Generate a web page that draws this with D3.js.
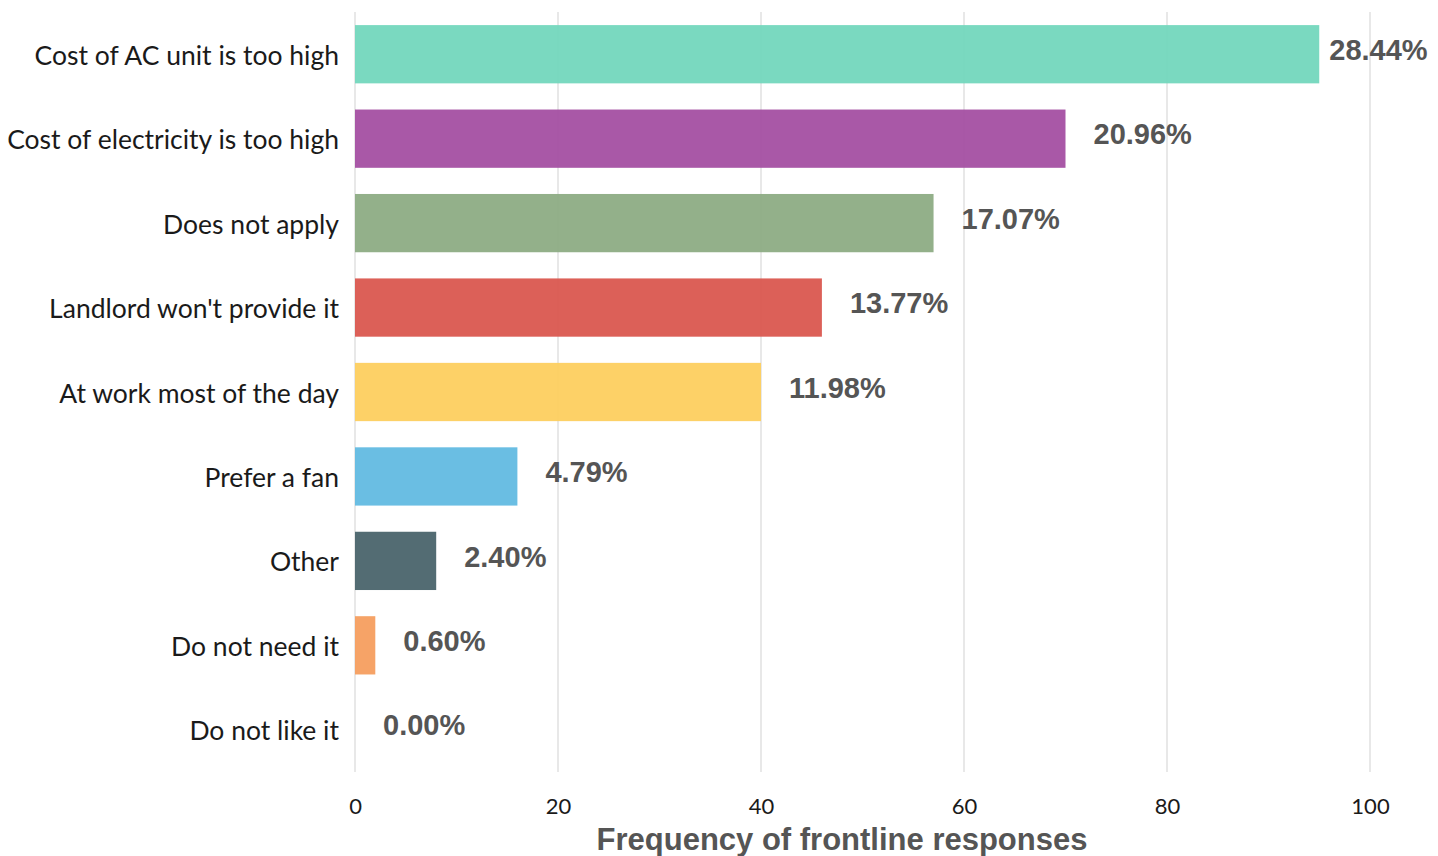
<!DOCTYPE html>
<html><head><meta charset="utf-8">
<script src="https://cdn.jsdelivr.net/npm/d3@7"></script>
<style>body{margin:0;background:#fff;} svg{display:block;}</style>
</head><body>
<svg id="chart" width="1438" height="856"></svg>
<script>
const categories = ["Cost of AC unit is too high","Cost of electricity is too high","Does not apply","Landlord won't provide it","At work most of the day","Prefer a fan","Other","Do not need it","Do not like it"];
const counts = [95,70,57,46,40,16,8,2,0];
const percentLabels = ["28.44%","20.96%","17.07%","13.77%","11.98%","4.79%","2.40%","0.60%","0.00%"];
const colors = ["#6fd6bb","#a24a9f","#8aa980","#d9534a","#fdcd5a","#5db9e1","#445f67","#f59b5a","#cccccc"];
const xTicks = [0,20,40,60,80,100];
const xTitle = "Frequency of frontline responses";

const svg = d3.select("#chart");
const pLeft = 355, pRight = 1370, pTop = 12, pBottom = 772;
const x = d3.scaleLinear().domain([0,100]).range([pLeft,pRight]);
const y = d3.scaleBand().domain(categories).range([pTop,pBottom]).paddingInner(0.31).paddingOuter(0.155);

// gridlines
svg.append("g").selectAll("line").data(xTicks).join("line")
  .attr("x1",d=>x(d)).attr("x2",d=>x(d)).attr("y1",pTop).attr("y2",pBottom)
  .attr("stroke","#d9d9d9").attr("stroke-width",1.2);

// bars
svg.append("g").selectAll("rect").data(categories).join("rect")
  .attr("x",x(0)).attr("y",d=>y(d))
  .attr("width",(d,i)=>x(counts[i])-x(0)).attr("height",y.bandwidth())
  .attr("fill",(d,i)=>colors[i]).attr("fill-opacity",0.92);

// value labels
svg.append("g").selectAll("text").data(categories).join("text")
  .attr("x",(d,i)=>x(counts[i]) + (i===0?10:28))
  .attr("y",d=>y(d)+y.bandwidth()/2 - 2)
  .attr("dominant-baseline","middle")
  .attr("font-family","'Liberation Sans', Arial, sans-serif")
  .attr("font-weight","bold").attr("font-size",29).attr("fill","#555")
  .text((d,i)=>percentLabels[i]);

// category labels (y axis)
const yAxis = d3.axisLeft(y).tickSize(0).tickPadding(16);
const gy = svg.append("g").attr("transform",`translate(${pLeft},0)`).call(yAxis);
gy.select(".domain").remove();
gy.selectAll("text").attr("font-family","Lato, 'Open Sans', sans-serif")
  .attr("font-size",26.5).attr("fill","#1a1a1a").attr("dy","0.4em");

// x axis
const xAxis = d3.axisBottom(x).tickValues(xTicks).tickSize(0).tickPadding(26);
const gx = svg.append("g").attr("transform",`translate(0,${pBottom})`).call(xAxis);
gx.select(".domain").remove();
gx.selectAll("text").attr("font-family","Lato, 'Open Sans', sans-serif")
  .attr("font-size",22).attr("fill","#1a1a1a");

svg.append("text").attr("x",842).attr("y",850)
  .attr("text-anchor","middle")
  .attr("font-family","'Liberation Sans', Arial, sans-serif")
  .attr("font-weight","bold").attr("font-size",31).attr("fill","#555")
  .text(xTitle);
</script>
</body></html>
